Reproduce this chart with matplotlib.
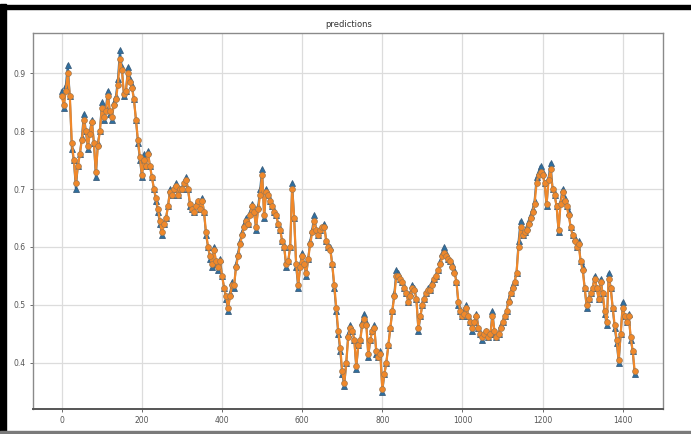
import numpy as np
import matplotlib
matplotlib.use("Agg")
import matplotlib.pyplot as plt
from matplotlib.patches import Rectangle

step = 5  # one reading every 5 samples

actual = [
    0.87, 0.84, 0.88, 0.915, 0.86, 0.77, 0.75, 0.70, 0.74, 0.76, 0.79, 0.83, 0.80, 0.77, 0.80, 0.82, 0.78, 0.72, 0.78, 0.80,
    0.85, 0.82, 0.84, 0.87, 0.83, 0.82, 0.85, 0.86, 0.89, 0.94, 0.91, 0.86, 0.87, 0.91, 0.89, 0.88, 0.855, 0.82, 0.78, 0.75,
    0.72, 0.76, 0.74, 0.765, 0.74, 0.72, 0.70, 0.68, 0.66, 0.64, 0.62, 0.64, 0.65, 0.67, 0.70, 0.69, 0.70, 0.71, 0.69, 0.70,
    0.70, 0.71, 0.72, 0.70, 0.67, 0.665, 0.66, 0.675, 0.68, 0.665, 0.685, 0.66, 0.62, 0.60, 0.58, 0.565, 0.60, 0.57, 0.56, 0.58,
    0.55, 0.53, 0.51, 0.49, 0.52, 0.54, 0.53, 0.57, 0.59, 0.61, 0.625, 0.64, 0.65, 0.64, 0.66, 0.675, 0.66, 0.63, 0.67, 0.70,
    0.735, 0.65, 0.70, 0.69, 0.68, 0.67, 0.66, 0.655, 0.64, 0.63, 0.61, 0.60, 0.565, 0.575, 0.60, 0.71, 0.65, 0.565, 0.53, 0.57,
    0.59, 0.57, 0.55, 0.58, 0.61, 0.63, 0.655, 0.63, 0.62, 0.63, 0.635, 0.64, 0.61, 0.60, 0.60, 0.57, 0.53, 0.49, 0.45, 0.42,
    0.38, 0.36, 0.40, 0.45, 0.465, 0.455, 0.44, 0.39, 0.43, 0.44, 0.47, 0.485, 0.47, 0.41, 0.44, 0.455, 0.465, 0.415, 0.41, 0.42,
    0.35, 0.38, 0.40, 0.43, 0.46, 0.49, 0.52, 0.56, 0.555, 0.545, 0.54, 0.53, 0.52, 0.505, 0.52, 0.535, 0.53, 0.51, 0.455, 0.48,
    0.50, 0.51, 0.52, 0.53, 0.525, 0.54, 0.545, 0.55, 0.56, 0.575, 0.59, 0.60, 0.59, 0.58, 0.575, 0.57, 0.56, 0.54, 0.50, 0.49,
    0.48, 0.49, 0.50, 0.48, 0.47, 0.455, 0.47, 0.485, 0.46, 0.45, 0.44, 0.45, 0.455, 0.445, 0.45, 0.49, 0.45, 0.445, 0.45, 0.465,
    0.47, 0.48, 0.49, 0.51, 0.52, 0.535, 0.54, 0.555, 0.61, 0.645, 0.62, 0.625, 0.635, 0.645, 0.655, 0.665, 0.68, 0.72, 0.73, 0.74,
    0.73, 0.71, 0.67, 0.72, 0.745, 0.70, 0.69, 0.67, 0.625, 0.68, 0.70, 0.685, 0.67, 0.66, 0.635, 0.62, 0.615, 0.60, 0.61, 0.575,
    0.565, 0.53, 0.495, 0.51, 0.52, 0.53, 0.55, 0.53, 0.51, 0.545, 0.52, 0.485, 0.465, 0.555, 0.53, 0.495, 0.46, 0.435, 0.40, 0.45,
    0.505, 0.48, 0.47, 0.485, 0.44, 0.42, 0.38,
]

predicted = [
    0.86, 0.845, 0.87, 0.90, 0.86, 0.78, 0.75, 0.71, 0.74, 0.76, 0.785, 0.82, 0.80, 0.775, 0.795, 0.815, 0.78, 0.73, 0.775, 0.80,
    0.84, 0.825, 0.835, 0.86, 0.835, 0.825, 0.845, 0.855, 0.88, 0.925, 0.905, 0.865, 0.87, 0.90, 0.885, 0.875, 0.855, 0.82, 0.785, 0.755,
    0.725, 0.75, 0.74, 0.76, 0.74, 0.72, 0.70, 0.685, 0.665, 0.645, 0.625, 0.64, 0.65, 0.67, 0.695, 0.69, 0.70, 0.705, 0.69, 0.70,
    0.70, 0.71, 0.715, 0.70, 0.675, 0.665, 0.66, 0.67, 0.68, 0.665, 0.68, 0.66, 0.625, 0.60, 0.585, 0.57, 0.595, 0.575, 0.565, 0.575,
    0.55, 0.53, 0.515, 0.495, 0.515, 0.535, 0.535, 0.565, 0.585, 0.605, 0.62, 0.635, 0.645, 0.64, 0.655, 0.67, 0.66, 0.635, 0.665, 0.69,
    0.725, 0.655, 0.695, 0.69, 0.68, 0.67, 0.66, 0.655, 0.64, 0.63, 0.61, 0.60, 0.57, 0.575, 0.60, 0.70, 0.65, 0.57, 0.535, 0.565,
    0.585, 0.57, 0.555, 0.58, 0.605, 0.625, 0.645, 0.63, 0.62, 0.63, 0.635, 0.635, 0.61, 0.60, 0.595, 0.57, 0.535, 0.495, 0.455, 0.425,
    0.385, 0.365, 0.40, 0.445, 0.46, 0.455, 0.44, 0.395, 0.43, 0.44, 0.465, 0.475, 0.465, 0.415, 0.44, 0.455, 0.46, 0.42, 0.41, 0.415,
    0.355, 0.38, 0.40, 0.43, 0.46, 0.49, 0.515, 0.55, 0.55, 0.545, 0.54, 0.53, 0.52, 0.505, 0.515, 0.53, 0.525, 0.51, 0.46, 0.48,
    0.50, 0.51, 0.52, 0.525, 0.525, 0.535, 0.545, 0.55, 0.56, 0.57, 0.585, 0.59, 0.585, 0.58, 0.575, 0.565, 0.555, 0.54, 0.505, 0.49,
    0.48, 0.485, 0.495, 0.48, 0.47, 0.46, 0.47, 0.48, 0.46, 0.45, 0.445, 0.45, 0.455, 0.445, 0.45, 0.48, 0.455, 0.445, 0.45, 0.46,
    0.47, 0.48, 0.49, 0.505, 0.52, 0.53, 0.54, 0.555, 0.60, 0.635, 0.62, 0.625, 0.63, 0.64, 0.65, 0.66, 0.675, 0.71, 0.725, 0.73,
    0.725, 0.71, 0.675, 0.715, 0.735, 0.70, 0.69, 0.67, 0.63, 0.675, 0.695, 0.68, 0.67, 0.655, 0.635, 0.62, 0.61, 0.60, 0.605, 0.575,
    0.56, 0.53, 0.50, 0.51, 0.52, 0.53, 0.545, 0.53, 0.51, 0.54, 0.52, 0.49, 0.47, 0.545, 0.53, 0.495, 0.465, 0.44, 0.405, 0.45,
    0.495, 0.48, 0.47, 0.48, 0.445, 0.42, 0.385,
]

x_ticks = [0, 200, 400, 600, 800, 1000, 1200, 1400]
y_ticks = [0.4, 0.5, 0.6, 0.7, 0.8, 0.9]

t = np.arange(len(actual)) * step

fig = plt.figure(figsize=(6.91, 4.34), dpi=100)
ax = fig.add_axes([0.048, 0.058, 0.912, 0.866])

ax.plot(t, actual, color="#2f6f9f", lw=1.4, marker="^", ms=4.5,
        mec="#3d5f7e", mew=0.6)
ax.plot(t, predicted, color="#f0882a", lw=1.6, marker="o", ms=4.2,
        mec="#a07850", mew=0.5)

ax.set_title("predictions", fontsize=6, color="#333333", pad=4)
ax.set_xticks(x_ticks)
ax.set_yticks(y_ticks)
ax.tick_params(labelsize=5.5, colors="#555555", length=2, width=0.6)
ax.grid(True, color="#dcdcdc", lw=0.9)
for side in ax.spines:
    ax.spines[side].set_color("#8a8a8a")
    ax.spines[side].set_linewidth(1.0)
ax.spines["bottom"].set_color("#555555")
ax.spines["bottom"].set_linewidth(1.4)

# screenshot frame round the figure
fig.patches.append(Rectangle((0, 0), 0.008, 0.99, transform=fig.transFigure,
                             color="black", zorder=10))
fig.patches.append(Rectangle((0, 0.979), 1, 0.01, transform=fig.transFigure,
                             color="black", zorder=10))
fig.patches.append(Rectangle((0, 0.0), 1, 0.006, transform=fig.transFigure,
                             color="#7a7a7a", zorder=10))

fig.savefig("out.png", dpi=100)
